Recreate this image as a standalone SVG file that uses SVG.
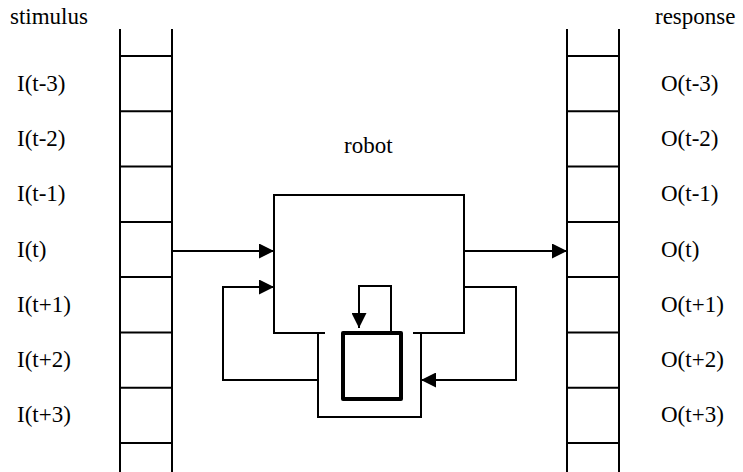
<svg xmlns="http://www.w3.org/2000/svg" width="743" height="472" viewBox="0 0 743 472">
  <style>
    .line { fill: none; stroke: #000; stroke-width: 2; }
    .thick { fill: none; stroke: #000; stroke-width: 4; stroke-linejoin: round; }
    .lbl { font-family: 'Liberation Serif', serif; font-size: 23px; fill: #000; }
  </style>
  <defs>
    <marker id="arrow" viewBox="0 0 15 15" refX="15" refY="7.5" markerWidth="15" markerHeight="15" markerUnits="userSpaceOnUse" orient="auto">
      <path d="M0,0 L15,7.5 L0,15 Z" fill="#000"/>
    </marker>
  </defs>
  <rect width="743" height="472" fill="#fff"/>

  <!-- input tape -->
  <g id="stimulus-tape">
    <text class="lbl" x="10" y="24">stimulus</text>
    <path class="line" d="M120,29 V472 M172,29 V472
      M120,56 H172 M120,111.3 H172 M120,166.6 H172 M120,221.9 H172
      M120,277.1 H172 M120,332.4 H172 M120,387.7 H172 M120,443 H172"/>
    <text class="lbl" x="17" y="90.6">I(t-3)</text>
    <text class="lbl" x="17" y="145.9">I(t-2)</text>
    <text class="lbl" x="17" y="201.2">I(t-1)</text>
    <text class="lbl" x="17" y="256.5">I(t)</text>
    <text class="lbl" x="17" y="311.8">I(t+1)</text>
    <text class="lbl" x="17" y="367.1">I(t+2)</text>
    <text class="lbl" x="17" y="422.4">I(t+3)</text>
  </g>

  <!-- output tape -->
  <g id="response-tape">
    <text class="lbl" x="655" y="24">response</text>
    <path class="line" d="M567,29 V472 M619,29 V472
      M567,56 H619 M567,111.3 H619 M567,166.6 H619 M567,221.9 H619
      M567,277.1 H619 M567,332.4 H619 M567,387.7 H619 M567,443 H619"/>
    <text class="lbl" x="661" y="90.6">O(t-3)</text>
    <text class="lbl" x="661" y="145.9">O(t-2)</text>
    <text class="lbl" x="661" y="201.2">O(t-1)</text>
    <text class="lbl" x="661" y="256.5">O(t)</text>
    <text class="lbl" x="661" y="311.8">O(t+1)</text>
    <text class="lbl" x="661" y="367.1">O(t+2)</text>
    <text class="lbl" x="661" y="422.4">O(t+3)</text>
  </g>

  <!-- robot body -->
  <g id="robot">
    <text class="lbl" x="344" y="153">robot</text>
    <path class="line" d="M325,333 H274 V195 H464 V333 H413"/>
  </g>

  <!-- internal memory holder -->
  <g id="memory-slot">
    <path class="line" d="M318,333 V417 H421 V333"/>
  </g>

  <g id="memory">
    <rect class="thick" x="343" y="333" width="58" height="66"/>
  </g>

  <!-- connectors -->
  <g id="connectors">
    <path class="line" d="M172,251 H274" marker-end="url(#arrow)"/>
    <path class="line" d="M318,380 H223 V287 H274" marker-end="url(#arrow)"/>
    <path class="line" d="M464,251 H567" marker-end="url(#arrow)"/>
    <path class="line" d="M464,287 H516 V380 H421" marker-end="url(#arrow)"/>
    <path class="line" d="M391,331 V286 H359 V328" marker-end="url(#arrow)"/>
  </g>
</svg>
